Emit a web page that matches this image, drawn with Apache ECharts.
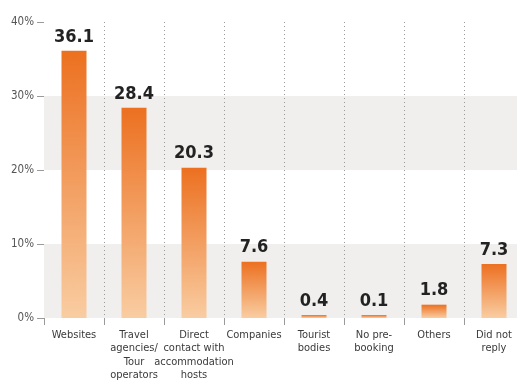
<!DOCTYPE html>
<html>
<head>
<meta charset="utf-8">
<script src="https://cdn.jsdelivr.net/npm/echarts@6/dist/echarts.min.js"></script>
<style>
  html, body { margin: 0; padding: 0; background: #fff; overflow: hidden; }
  #chart { width: 524px; height: 382px; }
</style>
</head>
<body>
<div id="chart"></div>
<script>
const categories = ['Websites', 'Travel\nagencies/\nTour\noperators', 'Direct\ncontact with\naccommodation\nhosts',
  'Companies', 'Tourist\nbodies', 'No pre-\nbooking', 'Others', 'Did not\nreply']
const values = [36.1, 28.4, 20.3, 7.6, 0.4, 0.1, 1.8, 7.3]
const yTicks = [0, 10, 20, 30, 40]

const narrow = '"Liberation Sans Narrow", "DejaVu Sans Condensed", sans-serif'

const chart = echarts.init(document.getElementById('chart'))
chart.setOption({
  animation: false,
  grid: { left: 44, right: 0, top: 22, bottom: 62 },
  xAxis: {
    type: 'category',
    data: categories,
    axisLine: { show: false },
    axisTick: { show: true, length: 7, lineStyle: { color: '#9a9a9a' } },
    axisLabel: {
      interval: 0,
      margin: 10,
      color: '#3a3a3a',
      fontFamily: narrow,
      fontSize: 11,
      lineHeight: 13.5
    },
    splitLine: {
      show: true,
      showMinLine: false,
      lineStyle: { color: '#9a9a9a', type: [1, 3], width: 1 }
    }
  },
  yAxis: {
    type: 'value',
    min: yTicks[0],
    max: yTicks[yTicks.length - 1],
    interval: 10,
    axisLine: { show: false },
    axisTick: { show: true, length: 7, lineStyle: { color: '#9a9a9a' } },
    axisLabel: {
      formatter: '{value}%',
      margin: 10,
      color: '#555',
      fontFamily: narrow,
      fontSize: 11.5
    },
    splitLine: { show: false },
    splitArea: { show: true, areaStyle: { color: ['#f0efed', '#ffffff'] } }
  },
  series: [{
    type: 'bar',
    data: values,
    barWidth: 25,
    barMinHeight: 3,
    itemStyle: {
      color: new echarts.graphic.LinearGradient(0, 0, 0, 1, [
        { offset: 0, color: '#ec7020' },
        { offset: 1, color: '#f9cda2' }
      ])
    },
    label: {
      show: true,
      position: 'top',
      distance: 5,
      color: '#222',
      fontFamily: narrow,
      fontWeight: 'bold',
      fontSize: 18
    }
  }]
})
</script>
</body>
</html>
